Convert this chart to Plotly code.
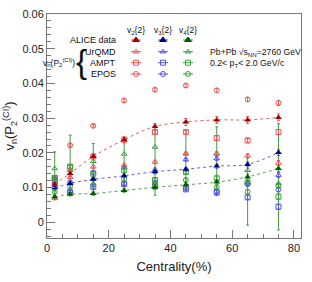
import plotly.graph_objects as go

# ---------------- data ----------------
centrality = [2.5, 7.5, 15, 25, 35, 45, 55, 65, 75]

alice_v2 = [0.0110, 0.0141, 0.0190, 0.0238, 0.0276, 0.0289, 0.0295, 0.0295, 0.0302]
alice_v2_err = [0.0008, 0.0008, 0.0008, 0.0009, 0.0009, 0.0010, 0.0010, 0.0010, 0.0010]
alice_v3 = [0.0100, 0.0112, 0.0124, 0.0134, 0.0146, 0.0153, 0.0162, 0.0167, 0.0201]
alice_v3_err = [0.0005, 0.0005, 0.0005, 0.0005, 0.0006, 0.0006, 0.0006, 0.0007, 0.0008]
alice_v4 = [0.0074, 0.0081, 0.0083, 0.0092, 0.0101, 0.0108, 0.0116, 0.0131, 0.0155]
alice_v4_err = [0.0005, 0.0005, 0.0005, 0.0005, 0.0006, 0.0006, 0.0007, 0.0008, 0.0009]

urqmd_v2 = [0.0069, 0.0130, 0.0160, 0.0165, 0.0174, 0.0198, 0.0198, 0.0192, 0.0171]
ampt_v2 = [0.0128, 0.0160, 0.0190, 0.0238, 0.0260, 0.0260, 0.0243, 0.0236, 0.0260]
epos_v2 = [0.0112, 0.0222, 0.0278, 0.0351, 0.0382, 0.0394, 0.0380, 0.0354, 0.0344]

urqmd_v3 = [0.0105, 0.0090, 0.0126, 0.0158, 0.0152, 0.0181, 0.0184, 0.0115, 0.0136]
ampt_v3 = [0.0120, 0.0088, 0.0102, 0.0110, 0.0104, 0.0095, 0.0086, 0.0072, 0.0045]
epos_v3 = [0.0125, 0.0115, 0.0143, 0.0112, 0.0114, 0.0100, 0.0090, 0.0110, 0.0095]

urqmd_v4 = [0.0155, 0.0150, 0.0176, 0.0197, 0.0217, 0.0198, 0.0198, 0.0150, 0.0112]
urqmd_v4_err_plus = [0.0048, 0.0101, 0.0051, 0.0039, 0.0058, 0.0067, 0.0077, 0.0035, 0.0172]
urqmd_v4_err_minus = [0.0065, 0.0069, 0.0093, 0.0109, 0.0139, 0.0105, 0.0120, 0.0158, 0.0134]
ampt_v4 = [0.0128, 0.0160, 0.0140, 0.0150, 0.0122, 0.0145, 0.0127, 0.0114, 0.0074]
epos_v4 = [0.0088, 0.0104, 0.0108, 0.0125, 0.0105, 0.0122, 0.0100, 0.0088, 0.0105]

model_err = [0.0004, 0.0004, 0.0004, 0.0005, 0.0005, 0.0005, 0.0006, 0.0006, 0.0007]

x_ticks = [0, 20, 40, 60, 80]
y_ticks = [0, 0.01, 0.02, 0.03, 0.04, 0.05, 0.06]
y_ticktext = ["0", "0.01", "0.02", "0.03", "0.04", "0.05", "0.06"]

# ---------------- styles ----------------
FONT = "Liberation Sans, Arial, Helvetica, sans-serif"
LIGHT = {"v2": "#f05555", "v3": "#5555e6", "v4": "#3f9f3f"}
DARK = {"v2": "#a00000", "v3": "#00007a", "v4": "#005a00"}
LINE = {"v2": "rgba(210,80,80,0.9)", "v3": "rgba(80,80,220,0.9)", "v4": "rgba(60,150,60,0.9)"}

fig = go.Figure()

def model_trace(x, y, harm, symbol, err_plus, err_minus=None):
    ey = dict(type="data", array=err_plus, color=LIGHT[harm], thickness=1, width=1.5)
    if err_minus is not None:
        ey["symmetric"] = False
        ey["arrayminus"] = err_minus
    fig.add_trace(go.Scatter(
        x=x, y=y, mode="markers",
        marker=dict(symbol=symbol, size=5, color=LIGHT[harm], line=dict(width=1, color=LIGHT[harm])),
        error_y=ey, showlegend=False, cliponaxis=False))

# models (drawn first)
model_trace(centrality, urqmd_v4, "v4", "triangle-up-open", urqmd_v4_err_plus, urqmd_v4_err_minus)
for harm, series in [("v2", (urqmd_v2, ampt_v2, epos_v2)),
                     ("v3", (urqmd_v3, ampt_v3, epos_v3)),
                     ("v4", (None, ampt_v4, epos_v4))]:
    for sym, ys in zip(["triangle-up-open", "square-open", "circle-open"], series):
        if ys is None:
            continue
        model_trace(centrality, ys, harm, sym, model_err)

# ALICE data with dotted fit lines
for harm, ys, errs in [("v2", alice_v2, alice_v2_err), ("v3", alice_v3, alice_v3_err), ("v4", alice_v4, alice_v4_err)]:
    fig.add_trace(go.Scatter(
        x=centrality, y=ys, mode="lines", line=dict(color=LINE[harm], width=1, dash="dot", shape="spline"),
        showlegend=False, hoverinfo="skip"))
    fig.add_trace(go.Scatter(
        x=centrality, y=ys, mode="markers",
        marker=dict(symbol="triangle-up", size=6, color=DARK[harm]),
        error_y=dict(type="data", array=errs, color=LIGHT[harm], thickness=1, width=1.5),
        showlegend=False))

# ---------------- legend block (overlay axis in pixel units) ----------------
COL_X = {"v2": 136, "v3": 163, "v4": 188}
ROW_Y = [40, 51.7, 62.7, 74]
ROW_NAMES = ["ALICE data", "UrQMD", "AMPT", "EPOS"]
ROW_SYMBOLS = ["triangle-up", "triangle-up-open", "square-open", "circle-open"]

for harm in ["v2", "v3", "v4"]:
    for i, (sym, ry) in enumerate(zip(ROW_SYMBOLS, ROW_Y)):
        col = DARK[harm] if i == 0 else LIGHT[harm]
        fig.add_trace(go.Scatter(
            x=[COL_X[harm]], y=[ry], xaxis="x2", yaxis="y2", mode="markers",
            marker=dict(symbol=sym, size=6 if i == 0 else 5, color=col, line=dict(width=1, color=col)),
            error_x=dict(type="constant", value=5, color=LIGHT[harm], thickness=1, width=0),
            showlegend=False, hoverinfo="skip", cliponaxis=False))

TXT = "#111"
annotations = []
for name, ry in zip(ROW_NAMES, ROW_Y):
    annotations.append(dict(x=117.5, y=ry, xref="x2", yref="y2", text=name, showarrow=False,
                            xanchor="right", yanchor="middle", font=dict(family=FONT, size=9, color=TXT)))
for harm, n in [("v2", 2), ("v3", 3), ("v4", 4)]:
    annotations.append(dict(x=COL_X[harm], y=30, xref="x2", yref="y2",
                            text=f"v<sub>{n}</sub>{{2}}", showarrow=False,
                            xanchor="center", yanchor="middle", font=dict(family=FONT, size=8.5, color=TXT)))
annotations.append(dict(x=77, y=62, xref="x2", yref="y2",
                        text="v<sub>n</sub>(P<sub>2</sub><sup>(CI)</sup>)", showarrow=False,
                        xanchor="right", yanchor="middle", font=dict(family=FONT, size=8.5, color=TXT)))
annotations.append(dict(x=81.5, y=61.5, xref="x2", yref="y2", text="{", showarrow=False,
                        xanchor="center", yanchor="middle",
                        font=dict(family="Liberation Sans Narrow, Liberation Sans", size=33, color=TXT)))
annotations.append(dict(x=208, y=52.5, xref="x2", yref="y2",
                        text="Pb+Pb √s<sub>NN</sub>=2760 GeV", showarrow=False,
                        xanchor="left", yanchor="middle", font=dict(family=FONT, size=8.7, color=TXT)))
annotations.append(dict(x=208, y=63.5, xref="x2", yref="y2",
                        text="0.2< p<sub>T</sub>< 2.0 GeV/c", showarrow=False,
                        xanchor="left", yanchor="middle", font=dict(family=FONT, size=8.7, color=TXT)))

fig.update_layout(
    width=312, height=282, autosize=False,
    margin=dict(l=47, r=11, t=14, b=44, autoexpand=False),
    paper_bgcolor="white", plot_bgcolor="white",
    font=dict(family=FONT, size=11, color="#222"),
    xaxis=dict(range=[0, 82.3], tickvals=x_ticks, ticks="inside", ticklen=8, tickcolor="#777",
               showline=True, linecolor="#777", linewidth=1, mirror=True, showgrid=False, zeroline=False,
               minor=dict(dtick=5, ticks="inside", ticklen=4, tickcolor="#777"),
               tickfont=dict(family=FONT, size=11, color="#222"),
               title=dict(text="Centrality(%)", font=dict(family=FONT, size=13, color="#222"), standoff=8)),
    yaxis=dict(range=[-0.0045, 0.06], tickvals=y_ticks, ticktext=y_ticktext,
               ticks="inside", ticklen=8, tickcolor="#777",
               showline=True, linecolor="#777", linewidth=1, mirror=True, showgrid=False, zeroline=False,
               minor=dict(dtick=0.002, tick0=0, ticks="inside", ticklen=4, tickcolor="#777"),
               tickfont=dict(family=FONT, size=11, color="#222"),
               title=dict(text="v<sub>n</sub>(P<sub>2</sub><sup>(CI)</sup>)",
                          font=dict(family=FONT, size=13, color="#222"), standoff=4)),
    xaxis2=dict(overlaying="x", range=[47, 301], visible=False, anchor="y2"),
    yaxis2=dict(overlaying="y", range=[238, 14], visible=False, anchor="x2"),
    annotations=annotations,
)

fig.write_html("out.html", config={"displayModeBar": False, "responsive": False},
               post_script="document.body.style.margin='0';document.body.style.overflow='hidden';")
